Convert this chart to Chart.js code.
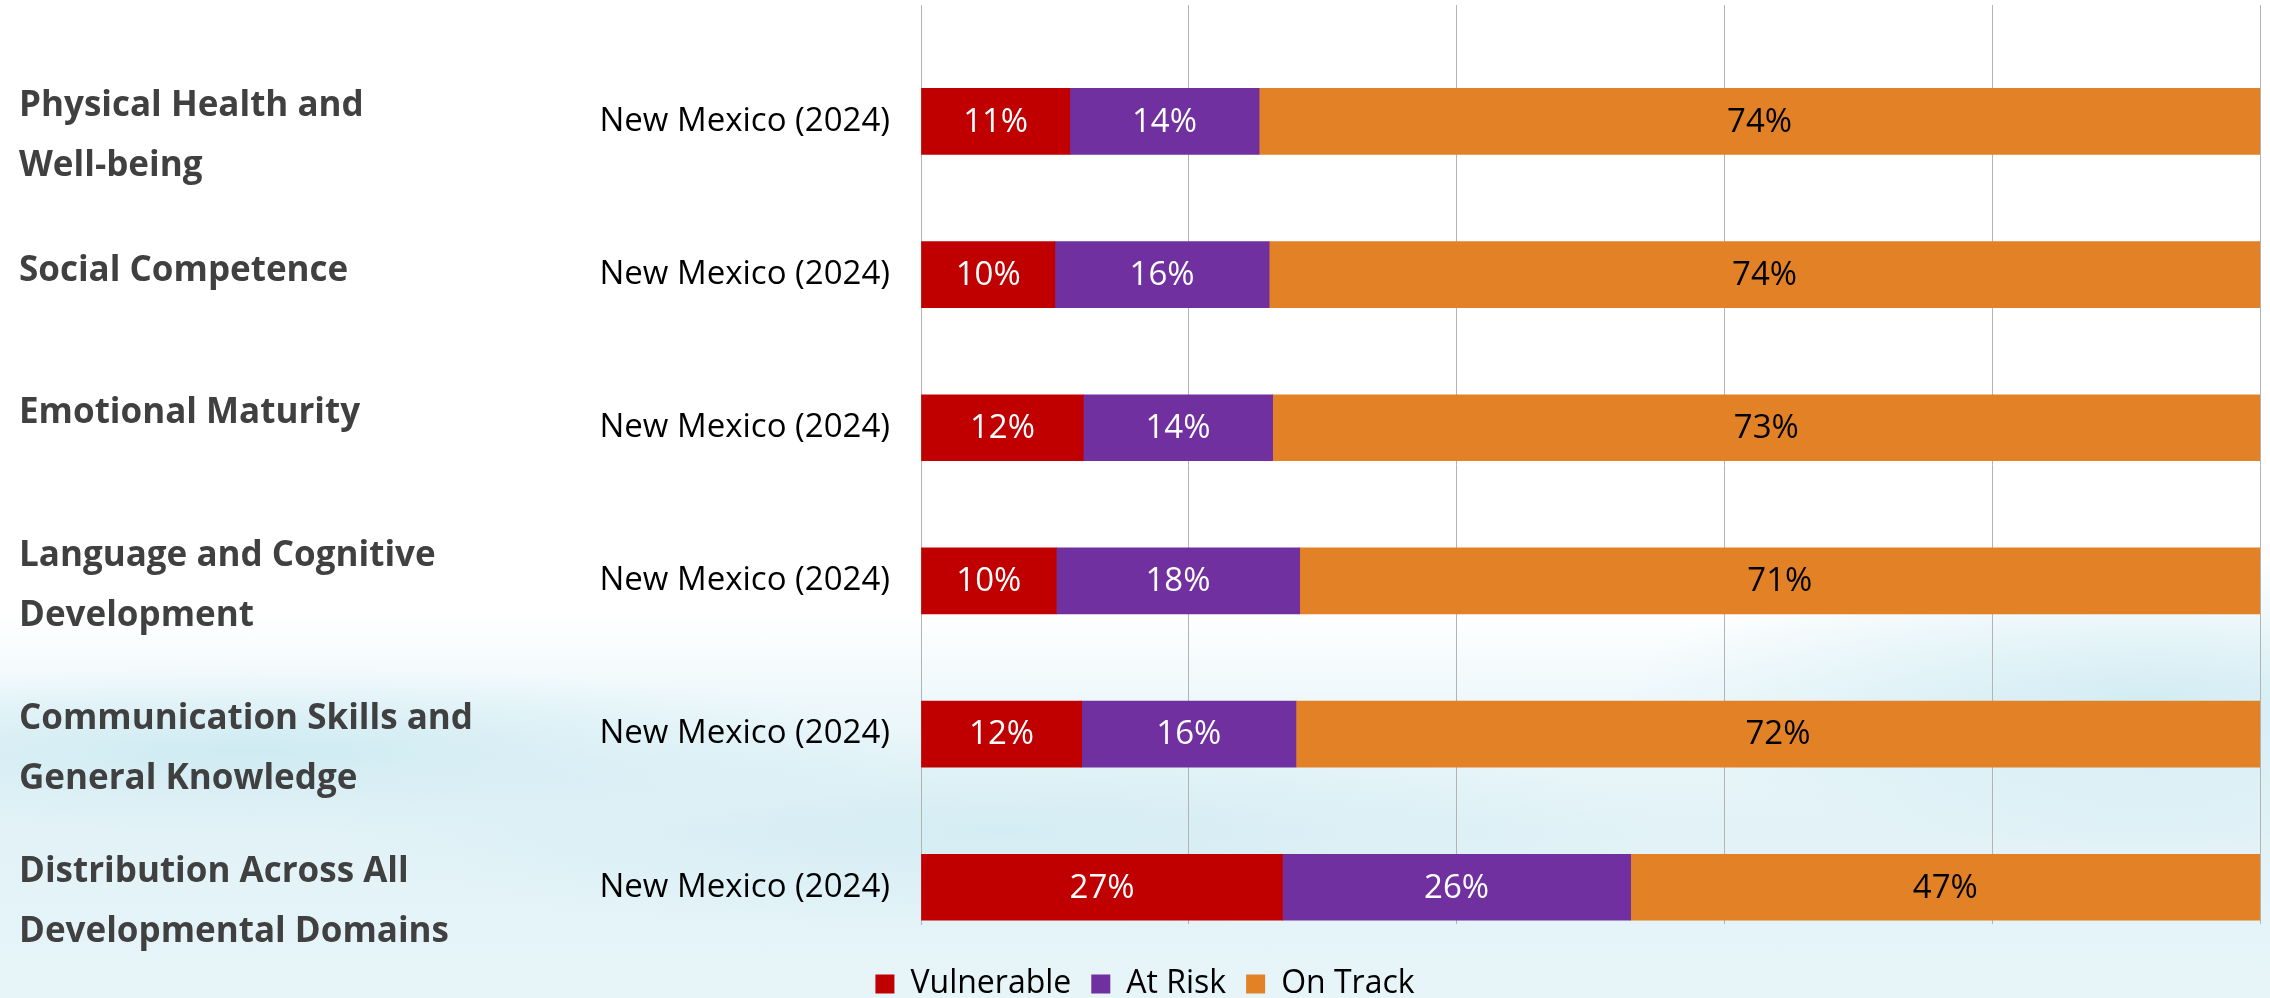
<!DOCTYPE html>
<html>
<head>
<meta charset="utf-8">
<script src="https://cdn.jsdelivr.net/npm/chart.js@4/dist/chart.umd.min.js"></script>
<style>
  html, body {
    margin: 0;
    padding: 0;
    overflow: hidden;
  }
  body {
    width: 2270px;
    height: 998px;
    background:
      radial-gradient(ellipse 900px 110px at 250px 750px, rgba(192, 229, 238, 0.65), rgba(192, 229, 238, 0) 75%),
      radial-gradient(ellipse 700px 200px at 2150px 700px, rgba(195, 230, 239, 0.65), rgba(195, 230, 239, 0) 75%),
      radial-gradient(ellipse 900px 140px at 1000px 830px, rgba(200, 232, 240, 0.55), rgba(200, 232, 240, 0) 75%),
      linear-gradient(to bottom, #ffffff 0px, #ffffff 610px, #eef8fb 700px, #e2f2f7 830px, #e7f5f9 998px);
  }
</style>
</head>
<body>
<canvas id="domainChart" width="2270" height="998"></canvas>
<script>
// domains (left labels) and the row label next to each bar
const domains = [
  "Physical Health and\nWell-being",
  "Social Competence",
  "Emotional Maturity",
  "Language and Cognitive\nDevelopment",
  "Communication Skills and\nGeneral Knowledge",
  "Distribution Across All\nDevelopmental Domains"
];
const rowLabel = "New Mexico (2024)";

// percentages as shown in the chart
const vulnerable = [11, 10, 12, 10, 12, 27];
const atRisk = [14, 16, 14, 18, 16, 26];
const onTrack = [74, 74, 73, 71, 72, 47];

const seriesNames = ["Vulnerable", "At Risk", "On Track"];
const seriesColors = ["#c00000", "#7030a0", "#e38127"];
const labelColors = ["#ffffff", "#ffffff", "#000000"];

const rawSeries = [vulnerable, atRisk, onTrack];
const rowTotals = vulnerable.map((v, i) => v + atRisk[i] + onTrack[i]);

// 100% stacked: each row is scaled to its own total
let datasets = rawSeries.map((vals, s) => ({
  label: seriesNames[s],
  data: vals.map((v, i) => ({ x: v / rowTotals[i] * 100, y: i })),
  raw: vals,
  backgroundColor: seriesColors[s],
  borderWidth: 0,
  barThickness: 66
}));

const FONT = "'Open Sans', 'Noto Sans', sans-serif";

const barLabels = {
  id: "barLabels",
  afterDatasetsDraw(chart) {
    let ctx = chart.ctx;
    ctx.save();
    ctx.font = "33px " + FONT;
    ctx.textAlign = "center";
    ctx.textBaseline = "middle";
    chart.data.datasets.forEach((ds, s) => {
      let meta = chart.getDatasetMeta(s);
      meta.data.forEach((bar, i) => {
        ctx.fillStyle = labelColors[s];
        ctx.fillText(ds.raw[i] + "%", (bar.x + bar.base) / 2, bar.y + 1);
      });
    });
    ctx.restore();
  }
};

// the domain text boxes sit a little off the bar centres in the original
const domainShift = [15, -4, -15, 5, 15, 15];

const domainLabels = {
  id: "domainLabels",
  afterDraw(chart) {
    let ctx = chart.ctx;
    let yScale = chart.scales.y;
    ctx.save();
    ctx.font = "bold 35px " + FONT;
    ctx.fillStyle = "#404040";
    ctx.textAlign = "left";
    ctx.textBaseline = "middle";
    domains.forEach((name, i) => {
      let lines = name.split("\n");
      let cy = yScale.getPixelForValue(i) + domainShift[i];
      let start = cy - (lines.length - 1) * 60 / 2;
      lines.forEach((line, k) => {
        ctx.fillText(line, 19, start + k * 60);
      });
    });
    ctx.restore();
  }
};

let context = document.getElementById("domainChart").getContext("2d");
let myChart = new Chart(context, {
  type: "bar",
  data: { datasets: datasets },
  plugins: [barLabels, domainLabels],
  options: {
    indexAxis: "y",
    responsive: false,
    animation: false,
    layout: {
      padding: { top: 5, right: 10, bottom: -12, left: 30 }
    },
    scales: {
      x: {
        stacked: true,
        min: 0,
        max: 100,
        ticks: { display: false, stepSize: 20 },
        grid: { color: "#b3b3b3", lineWidth: 1, drawTicks: false },
        border: { display: false },
        afterFit(scale) { scale.height = 24; }
      },
      y: {
        type: "linear",
        stacked: true,
        reverse: true,
        offset: false,
        min: -0.76,
        max: 5.24,
        afterBuildTicks(scale) {
          scale.ticks = domains.map((d, i) => ({ value: i }));
        },
        ticks: {
          color: "#000000",
          font: { family: FONT, size: 33 },
          padding: 31,
          callback: () => rowLabel
        },
        grid: { display: false, drawTicks: false, offset: false },
        border: { display: true, color: "#b3b3b3", width: 1 },
        afterFit(scale) {
          scale.width = 891;
          scale.paddingTop = 0;
          scale.paddingBottom = 0;
        }
      }
    },
    plugins: {
      legend: {
        position: "bottom",
        labels: {
          color: "#000000",
          font: { family: FONT, size: 32 },
          boxWidth: 19,
          boxHeight: 19,
          padding: 20
        }
      },
      tooltip: { enabled: false }
    }
  }
});
</script>
</body>
</html>
